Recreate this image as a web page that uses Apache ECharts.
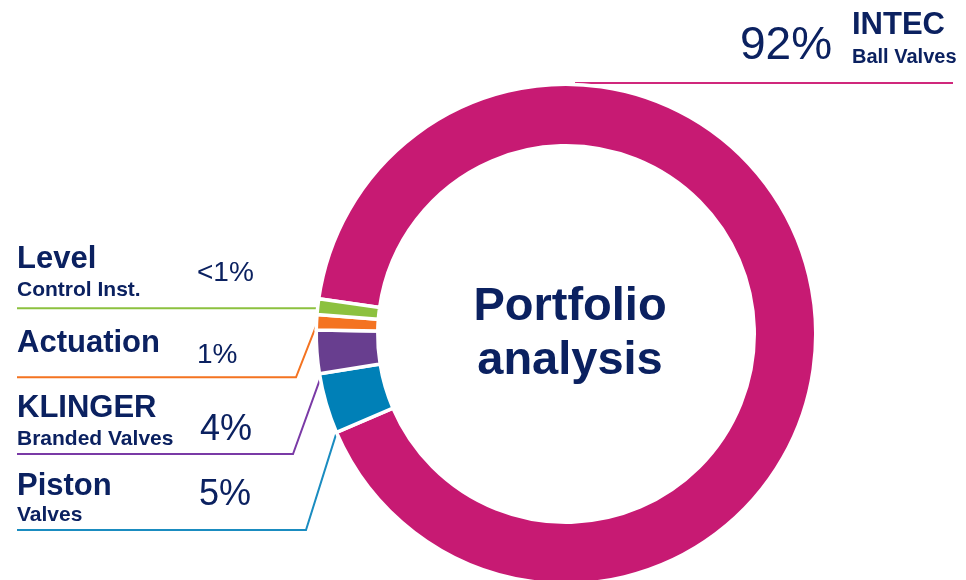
<!DOCTYPE html>
<html>
<head>
<meta charset="utf-8">
<script src="https://cdn.jsdelivr.net/npm/echarts@6/dist/echarts.min.js"></script>
<style>
  html, body { margin: 0; padding: 0; background: #fff; }
  #chart { width: 966px; height: 580px; }
</style>
</head>
<body>
<div id="chart"></div>
<script>
// slices, clockwise starting with the INTEC slice
const segNames = ['INTEC', 'Piston', 'KLINGER', 'Actuation', 'Level'];
const segSubNames = ['Ball Valves', 'Valves', 'Branded Valves', '', 'Control Inst.'];
const segShares = [91.3, 3.9, 2.8, 1.0, 1.0];
const segLabels = ['92%', '5%', '4%', '1%', '<1%'];
const segColors = ['#c71a73', '#0080b7', '#683e8f', '#f47321', '#8cc13f'];
const lineColors = ['#d0287c', '#1a8cc0', '#7a3aa6', '#f47321', '#8cc13f'];
const centerTitle = ['Portfolio', 'analysis'];

const NAVY = '#0b2160';
const FONT = '"Liberation Sans", Arial, sans-serif';
const CX = 566, CY = 334, R_IN = 190, R_OUT = 248, GAP = 3.5;
const START = 171.9;

// left hand label rows (index into the slice arrays), top to bottom
const leftRows = [
  { i: 4, name: 259, sub: 290.5, pct: 273, pctX: 197, pctSize: 28, lineY: null, elbowX: null, frac: 0.4, rf: 1 },
  { i: 3, name: 343, sub: null, pct: 355, pctX: 197, pctSize: 28, lineY: 377.3, elbowX: 296, frac: 0.64, rf: 1 },
  { i: 2, name: 408, sub: 439.5, pct: 430, pctX: 200, pctSize: 36, lineY: 454, elbowX: 293, frac: 0.35, rf: 0.965 },
  { i: 1, name: 486, sub: 515.5, pct: 495.5, pctX: 199, pctSize: 36, lineY: 530, elbowX: 306, frac: 0.03, rf: 1 }
];

const total = segShares.reduce((a, b) => a + b, 0);
let acc = 0;
const sliceAngles = segShares.map(v => {
  const a0 = START - acc / total * 360;
  acc += v;
  return [a0, START - acc / total * 360];
});

const ringPoint = (i, frac, rf) => {
  const [a0, a1] = sliceAngles[i];
  const a = (a0 + (a1 - a0) * frac) * Math.PI / 180;
  return [CX + R_OUT * rf * Math.cos(a), CY - R_OUT * rf * Math.sin(a)];
};

const txt = (x, y, text, size, bold, align) => ({
  type: 'text',
  x, y,
  silent: true,
  style: {
    text,
    fill: NAVY,
    font: (bold ? 'bold ' : '') + size + 'px ' + FONT,
    align: align || 'left',
    verticalAlign: 'middle'
  }
});

const elements = [];

leftRows.forEach(row => {
  const i = row.i;
  elements.push(txt(17, row.name, segNames[i], 31, true));
  if (row.sub != null) elements.push(txt(17, row.sub, segSubNames[i], 21, true));
  elements.push(txt(row.pctX, row.pct, segLabels[i], row.pctSize, false));

  const p = ringPoint(i, row.frac, row.rf);
  const pts = row.lineY == null
    ? [[17, p[1]], p]
    : [[17, row.lineY], [row.elbowX, row.lineY], p];
  elements.push({
    type: 'polyline',
    silent: true,
    shape: { points: pts },
    style: { stroke: lineColors[i], lineWidth: 2, fill: null }
  });
});

// INTEC label, top right
elements.push(txt(740, 46.3, segLabels[0], 46, false));
elements.push(txt(852, 25, segNames[0], 31, true));
elements.push(txt(852, 57, segSubNames[0], 20, true));
elements.push({
  type: 'line',
  silent: true,
  shape: { x1: 575, y1: 83, x2: 953, y2: 83 },
  style: { stroke: lineColors[0], lineWidth: 2 }
});

// title in the hole
elements.push(txt(570, 307, centerTitle[0], 47, true, 'center'));
elements.push(txt(570, 361, centerTitle[1], 47, true, 'center'));

const chart = echarts.init(document.getElementById('chart'), null, { renderer: 'canvas' });
chart.setOption({
  animation: false,
  backgroundColor: '#fff',
  series: [
    {
      type: 'pie',
      center: [CX, CY],
      radius: [R_IN - GAP / 2, R_OUT + GAP / 2],
      startAngle: START,
      clockwise: true,
      silent: true,
      label: { show: false },
      labelLine: { show: false },
      emphasis: { disabled: true },
      itemStyle: { borderColor: '#fff', borderWidth: GAP },
      data: segShares.map((v, k) => ({
        name: segNames[k],
        value: v,
        itemStyle: { color: segColors[k] }
      }))
    }
  ],
  graphic: { elements }
});

window.addEventListener('resize', () => chart.resize());
</script>
</body>
</html>
